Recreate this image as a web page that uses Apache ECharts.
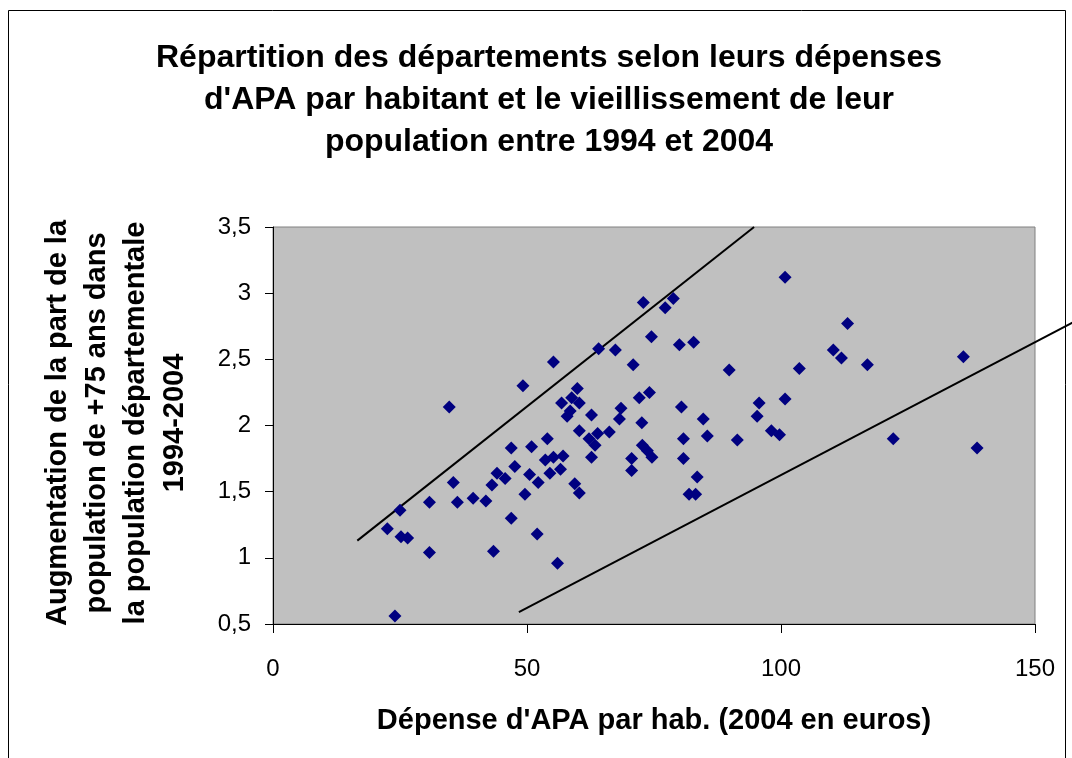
<!DOCTYPE html>
<html>
<head>
<meta charset="utf-8">
<title>Dépenses d'APA et vieillissement</title>
<script src="https://cdn.jsdelivr.net/npm/echarts@6/dist/echarts.min.js"></script>
<style>
  html, body { margin: 0; padding: 0; background: #fff; }
  #chart { width: 1072px; height: 758px; }
</style>
</head>
<body>
<div id="chart"></div>
<script>
// dépense d'APA par habitant (euros 2004), un point par département
const depenseApa = [
  22.5, 25.0, 25.2, 26.5, 24.0, 30.8, 30.8, 34.7, 35.5, 36.3,
  39.4, 41.9, 43.1, 43.4, 44.1, 45.7, 46.9, 47.6, 46.9, 49.2,
  49.6, 50.5, 50.9, 52.2, 52.0, 54.0, 53.6, 55.2, 57.1, 54.5,
  56.6, 55.2, 56.0, 56.8, 58.8, 60.3, 58.5, 57.9, 59.9, 59.4,
  60.3, 60.3, 62.2, 63.4, 62.7, 63.9, 66.2, 62.7, 64.1, 67.4,
  68.5, 68.2, 70.9, 72.1, 74.1, 72.6, 70.6, 70.6, 72.7, 73.7,
  74.6, 72.9, 78.8, 77.2, 74.5, 80.0, 82.8, 80.4, 80.8, 80.8,
  83.5, 81.9, 83.2, 84.7, 85.5, 89.8, 91.4, 95.3, 95.7, 98.1,
  99.7, 100.8, 100.8, 103.6, 110.3, 111.9, 113.1, 117.0, 122.1, 135.9,
  138.6
]
// augmentation de la part des +75 ans (points), même ordre
const augmentation = [
  1.22, 1.36, 1.16, 1.15, 0.56, 1.42, 1.04, 2.14, 1.57, 1.42,
  1.45, 1.43, 1.55, 1.05, 1.64, 1.60, 1.83, 1.69, 1.30, 2.30,
  1.48, 1.63, 1.84, 1.57, 1.18, 1.90, 1.74, 1.76, 1.77, 1.64,
  1.67, 2.48, 0.96, 2.17, 2.21, 2.17, 2.11, 2.07, 2.28, 1.56,
  1.49, 1.96, 1.90, 1.85, 1.76, 1.94, 1.95, 2.08, 2.58, 2.57,
  2.13, 2.05, 2.46, 2.21, 2.25, 2.02, 1.75, 1.66, 1.85, 1.81,
  1.76, 2.93, 2.96, 2.89, 2.67, 2.61, 2.63, 2.14, 1.90, 1.75,
  1.61, 1.48, 1.48, 2.05, 1.92, 2.42, 1.89, 2.07, 2.17, 1.96,
  1.93, 2.20, 3.12, 2.43, 2.57, 2.51, 2.77, 2.46, 1.90, 2.52,
  1.83
]
// les deux droites tracées à la main : [x1, y1, x2, y2]
const ligneHaut = [16.6, 1.13, 94.7, 3.5]
const ligneBas = [48.4, 0.59, 157.5, 2.78]

const xTicks = [0, 50, 100, 150]
const yTicks = [0.5, 1, 1.5, 2, 2.5, 3, 3.5]

const fmt = v => String(v).replace('.', ',')

const chart = echarts.init(document.getElementById('chart'))

chart.setOption({
  animation: false,
  backgroundColor: '#fff',
  textStyle: { fontFamily: 'Liberation Sans, Arial, sans-serif' },
  title: {
    text: "Répartition des départements selon leurs dépenses\nd'APA par habitant et le vieillissement de leur\npopulation entre 1994 et 2004",
    left: 544,
    top: 32,
    textAlign: 'center',
    textStyle: {
      fontFamily: 'Liberation Sans, Arial, sans-serif',
      fontWeight: 'bold',
      fontSize: 32,
      lineHeight: 42,
      color: '#000'
    }
  },
  grid: {
    left: 273,
    right: 37,
    top: 227,
    bottom: 134,
    show: true,
    backgroundColor: '#c0c0c0',
    borderColor: '#808080',
    borderWidth: 1
  },
  xAxis: {
    type: 'value',
    min: xTicks[0],
    max: xTicks[xTicks.length - 1],
    interval: 50,
    name: "Dépense d'APA par hab. (2004 en euros)",
    nameLocation: 'middle',
    nameGap: 82,
    nameTextStyle: {
      fontWeight: 'bold',
      fontSize: 29,
      color: '#000'
    },
    axisLine: { show: true, onZero: false, lineStyle: { color: '#000', width: 1 } },
    axisTick: { show: true, length: 9, lineStyle: { color: '#000' } },
    axisLabel: { margin: 33, fontSize: 24, color: '#000', formatter: fmt },
    splitLine: { show: false }
  },
  yAxis: {
    type: 'value',
    min: yTicks[0],
    max: yTicks[yTicks.length - 1],
    interval: 0.5,
    axisLine: { show: true, onZero: false, lineStyle: { color: '#000', width: 1 } },
    axisTick: { show: true, length: 8, lineStyle: { color: '#000' } },
    axisLabel: { margin: 22, fontSize: 24, color: '#000', formatter: fmt },
    splitLine: { show: false }
  },
  graphic: [
    {
      type: 'rect',
      z: -10,
      shape: { x: 8.5, y: 10.5, width: 1057, height: 760 },
      style: { fill: 'none', stroke: '#000', lineWidth: 1 }
    },
    {
      type: 'text',
      x: 116,
      y: 423,
      rotation: Math.PI / 2,
      style: {
        text: 'Augmentation de la part de la\npopulation de +75 ans dans\nla population départementale\n1994-2004',
        fontFamily: 'Liberation Sans, Arial, sans-serif',
        fontWeight: 'bold',
        fontSize: 29,
        lineHeight: 39,
        fill: '#000',
        align: 'center',
        verticalAlign: 'middle'
      }
    }
  ],
  series: [
    {
      type: 'scatter',
      symbol: 'diamond',
      symbolSize: 13,
      itemStyle: { color: '#000080', opacity: 1 },
      data: depenseApa.map((x, i) => [x, augmentation[i]])
    },
    {
      // droites : série custom pour pouvoir dépasser le cadre du graphique
      type: 'custom',
      clip: false,
      encode: { x: [0, 2], y: [1, 3] },
      data: [ligneHaut, ligneBas],
      renderItem: (params, api) => {
        const p1 = api.coord([api.value(0), api.value(1)])
        const p2 = api.coord([api.value(2), api.value(3)])
        return {
          type: 'line',
          shape: { x1: p1[0], y1: p1[1], x2: p2[0], y2: p2[1] },
          style: { stroke: '#000', lineWidth: 2 }
        }
      }
    }
  ]
})
</script>
</body>
</html>
